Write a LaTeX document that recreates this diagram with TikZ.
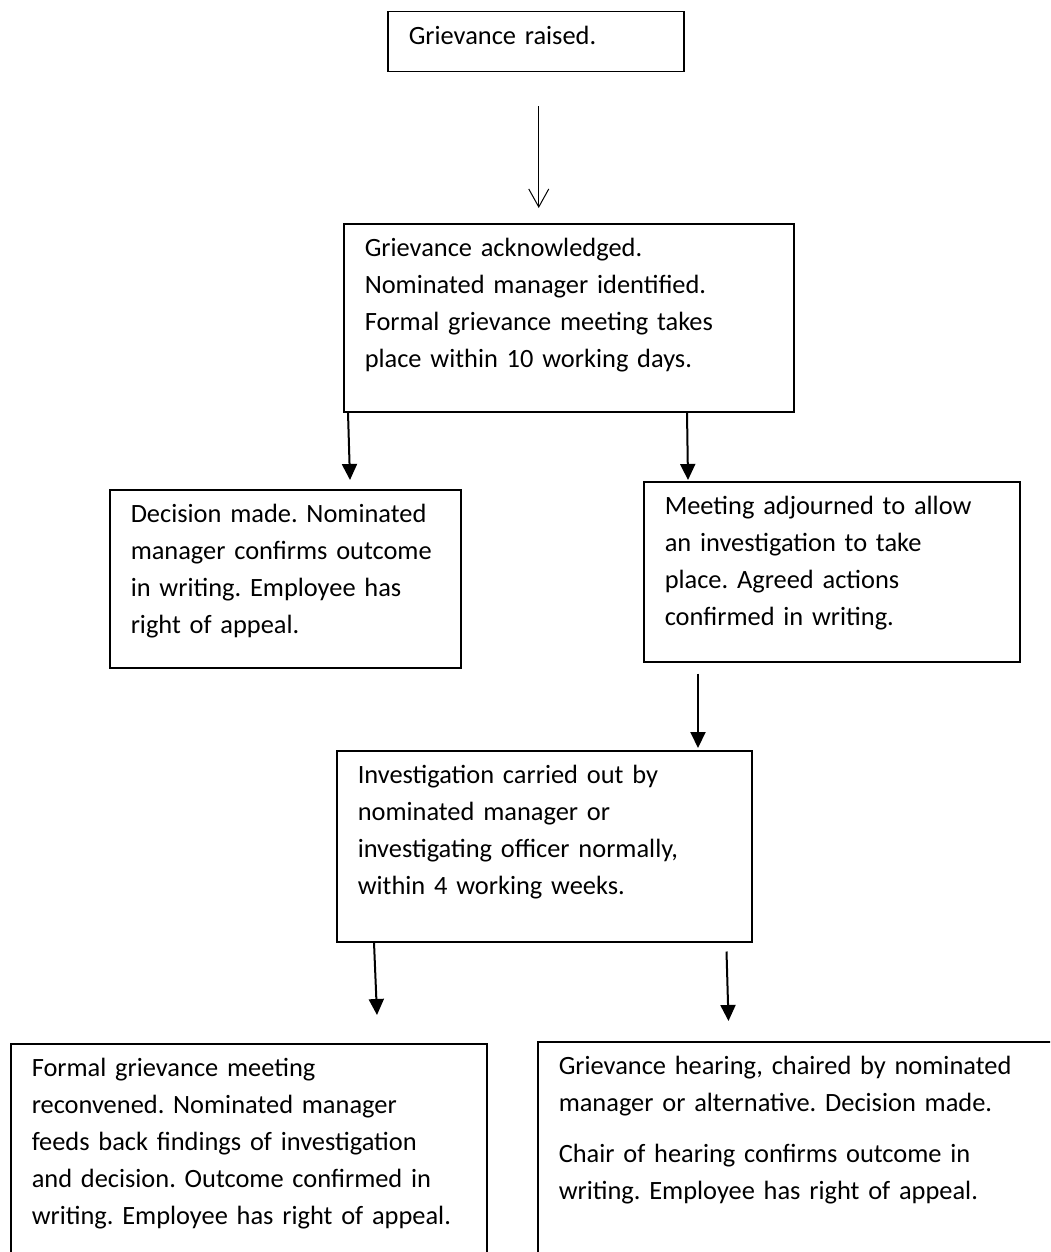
\documentclass[tikz,border=0pt]{standalone}
\usepackage{fontspec}
\setmainfont{Carlito}
\frenchspacing
\usetikzlibrary{arrows.meta}
\begin{document}
\begin{tikzpicture}[x=0.5pt,y=-0.5pt,line join=miter,
  box/.style={draw,line width=0.75pt,anchor=north west,align=left,inner xsep=10.5pt,inner ysep=0pt,
    text height=16.5pt,font=\fontsize{13.2}{18.5}\selectfont},
  arr/.style={line width=1pt,-{Triangle[length=8pt,width=7.5pt]}},
  thinarr/.style={line width=0.5pt,-{Straight Barb[length=9pt,width=10pt]}}]
\useasboundingbox (0,0) rectangle (1050,1252);
\clip (0,0) rectangle (1050,1252);
\fill[white] (0,0) rectangle (1050,1252);
% boxes
\node[box,text width=127pt,text depth=13.5pt] (raised) at (387,11) {Grievance raised.};
\node[box,text width=204pt,text depth=77.5pt] (ack) at (343,223) {Grievance acknowledged.\\
  Nominated manager identified.\\ Formal grievance meeting takes\\ place within 10 working days.};
\node[box,text width=154.5pt,text depth=72.5pt] (decision) at (109,489) {Decision made. Nominated\\
  manager confirms outcome\\ in writing. Employee has\\ right of appeal.};
\node[box,text width=167pt,text depth=73.5pt] (adjourn) at (643,481) {Meeting adjourned to allow\\
  an investigation to take\\ place. Agreed actions\\ confirmed in writing.};
\node[box,text width=186.5pt,text depth=79pt] (invest) at (336,750) {Investigation carried out by\\
  nominated manager or\\ investigating officer normally,\\ within 4 working weeks.};
\node[box,text width=217pt,text depth=113.5pt] (reconvene) at (10,1043) {Formal grievance meeting\\
  reconvened. Nominated manager\\ feeds back findings of investigation\\ and decision. Outcome confirmed in\\
  writing. Employee has right of appeal.};
\node[box,text width=249pt,text depth=113.5pt] (hearing) at (537,1041) {Grievance hearing, chaired by nominated\\
  manager or alternative. Decision made.\\[7pt] Chair of hearing confirms outcome in\\
  writing. Employee has right of appeal.};
% arrows
\draw[thinarr] ([xshift=1.5pt,yshift=-17pt]raised.south) -- ([xshift=1.5pt,yshift=7.5pt]raised.south |- ack.north);
\draw[arr] ([xshift=2.5pt]ack.south west) -- ([xshift=3.5pt,yshift=4.5pt]ack.south west |- decision.north);
\draw[arr] ([xshift=22pt]adjourn.north west |- ack.south) -- ([xshift=22.5pt,yshift=0.5pt]adjourn.north west);
\draw[arr] ([xshift=27.5pt,yshift=-5.5pt]adjourn.south west) -- ([xshift=27.5pt,yshift=1pt]adjourn.south west |- invest.north);
\draw[arr] ([xshift=19pt]invest.south west) -- ([xshift=20.5pt,yshift=14pt]invest.south west |- reconvene.north);
\draw[arr] ([xshift=-13pt,yshift=-4.5pt]invest.south east) -- ([xshift=-12pt,yshift=10pt]invest.south east |- hearing.north);
\end{tikzpicture}
\end{document}
